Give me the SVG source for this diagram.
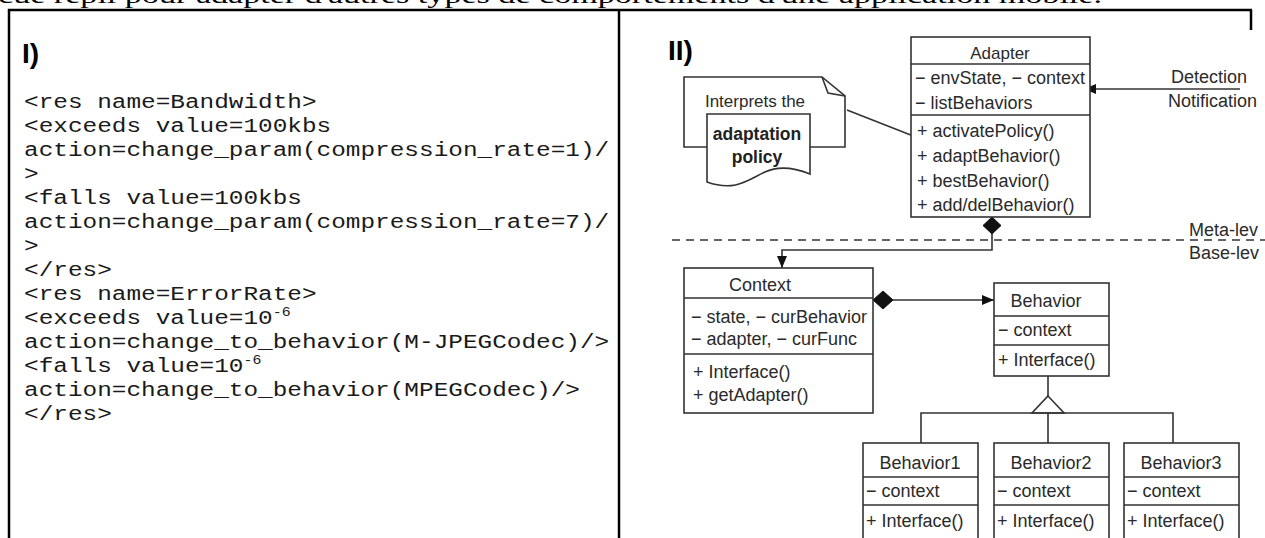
<svg xmlns="http://www.w3.org/2000/svg" width="1265" height="538" viewBox="0 0 1265 538">
<style>
.frame{stroke:#000;stroke-width:2.5;fill:none}
.code{font-family:"Liberation Mono","Courier New",monospace;font-size:20.5px;fill:#1a1a1a}
.sup{font-size:12.5px}
.head{font-family:"Liberation Sans",Arial,sans-serif;font-weight:bold;font-size:28px;fill:#000}
.box{fill:#fff;stroke:#333;stroke-width:1.6}
.ln{stroke:#333;stroke-width:1.6;fill:none}
.t{font-family:"Liberation Sans",Arial,sans-serif;font-size:18px;fill:#2a2a2a}
.tc{font-family:"Liberation Sans",Arial,sans-serif;font-size:18px;fill:#2a2a2a;text-anchor:middle}
.tb{font-family:"Liberation Sans",Arial,sans-serif;font-size:17.5px;font-weight:bold;fill:#222;text-anchor:middle}
.fill{fill:#111;stroke:#111;stroke-width:1}
</style>
<defs>
<marker id="arr" viewBox="0 0 12 10" refX="12" refY="5" markerWidth="12" markerHeight="10" markerUnits="userSpaceOnUse" orient="auto">
<path d="M0,0 L12,5 L0,10 Z" fill="#111"/>
</marker>
</defs>
<rect width="1265" height="538" fill="#fff"/>
<text x="-2" y="3" font-family="'Liberation Serif','Times New Roman',serif" font-size="24" fill="#000" textLength="1104" lengthAdjust="spacingAndGlyphs">cue répli pour adapter d'autres types de comportements d'une application mobile.</text>
<g id="frame">
<path class="frame" d="M9,538 V10 H1252 M619,10 V538 M1251,10 V30"/>
</g>
<g id="panel-I">
<text class="head" x="22" y="63">I)</text>
<g transform="scale(1.19,1)">
<text class="code">
<tspan x="20.2" y="108">&lt;res name=Bandwidth&gt;</tspan>
<tspan x="20.2" y="132">&lt;exceeds value=100kbs</tspan>
<tspan x="20.2" y="156">action=change_param(compression_rate=1)/</tspan>
<tspan x="20.2" y="180">&gt;</tspan>
<tspan x="20.2" y="204">&lt;falls value=100kbs</tspan>
<tspan x="20.2" y="228">action=change_param(compression_rate=7)/</tspan>
<tspan x="20.2" y="252">&gt;</tspan>
<tspan x="20.2" y="276">&lt;/res&gt;</tspan>
<tspan x="20.2" y="300">&lt;res name=ErrorRate&gt;</tspan>
<tspan x="20.2" y="324">&lt;exceeds value=10</tspan><tspan class="sup" dy="-8">-6</tspan>
<tspan x="20.2" y="348">action=change_to_behavior(M-JPEGCodec)/&gt;</tspan>
<tspan x="20.2" y="372">&lt;falls value=10</tspan><tspan class="sup" dy="-8">-6</tspan>
<tspan x="20.2" y="396">action=change_to_behavior(MPEGCodec)/&gt;</tspan>
<tspan x="20.2" y="420">&lt;/res&gt;</tspan>
</text>
</g>
</g>
<g id="panel-II-label">
<text class="head" x="668" y="60">II)</text>
</g>
<g id="connectors">
<line class="ln" x1="847" y1="110" x2="926" y2="141"/>
<line class="ln" x1="1240" y1="89" x2="1084" y2="89" marker-end="url(#arr)"/>
<line class="ln" x1="672" y1="240" x2="1265" y2="240" stroke="#555" stroke-dasharray="8,6"/>
<path class="ln" d="M992,234 V250 H782 V268" marker-end="url(#arr)"/>
<path class="fill" d="M992,217 L1001,225.5 L992,234 L983,225.5 Z"/>
<line class="ln" x1="893" y1="300" x2="994" y2="300" marker-end="url(#arr)"/>
<path class="fill" d="M873,300 L883,291 L893,300 L883,309 Z"/>
<path class="ln" d="M1048,376 V396 M1048,413 V443 M921,443 V413 H1173 V443"/>
<path class="ln" d="M1048,396 L1064,413 L1032,413 Z" fill="#fff"/>
<circle cx="926" cy="141" r="5" fill="#111"/>
</g>
<g id="note">
<path class="box" d="M684,77 H822 L845,96 V147 H684 Z"/>
<path class="ln" d="M822,77 L828,93 L845,96"/>
<text class="tc" x="755" y="107" style="font-size:17px">Interprets the</text>
</g>
<g id="policy">
<path class="box" d="M707,114 H810 V174 C795,168 780,165 765,172 C748,180 735,192 707,182 Z"/>
<text class="tb" x="757" y="140">adaptation</text>
<text class="tb" x="757" y="163">policy</text>
</g>
<g id="adapter">
<rect class="box" x="911" y="37" width="179" height="180"/>
<path class="ln" d="M911,64 H1090 M911,115 H1090"/>
<text class="tc" x="1000" y="59" style="font-size:17px">Adapter</text>
<text class="t" x="915" y="84">− envState, − context</text>
<text class="t" x="915" y="109">− listBehaviors</text>
<text class="t" x="917" y="137">+ activatePolicy()</text>
<text class="t" x="917" y="162">+ adaptBehavior()</text>
<text class="t" x="917" y="187">+ bestBehavior()</text>
<text class="t" x="917" y="211">+ add/delBehavior()</text>
</g>
<g id="detection">
<text class="t" x="1171" y="83">Detection</text>
<text class="t" x="1168" y="107">Notification</text>
</g>
<g id="levels">
<text class="t" x="1189" y="236">Meta-lev</text>
<text class="t" x="1189" y="259">Base-lev</text>
</g>
<g id="context">
<rect class="box" x="684" y="268" width="189" height="145"/>
<path class="ln" d="M684,298 H873 M684,354 H873"/>
<text class="tc" x="760" y="291">Context</text>
<text class="t" x="691" y="323">− state, − curBehavior</text>
<text class="t" x="691" y="345">− adapter, − curFunc</text>
<text class="t" x="693" y="378">+ Interface()</text>
<text class="t" x="693" y="401">+ getAdapter()</text>
</g>
<g id="behavior">
<rect class="box" x="994" y="283" width="115" height="93"/>
<path class="ln" d="M994,316 H1109 M994,345 H1109"/>
<text class="tc" x="1046" y="307">Behavior</text>
<text class="t" x="998" y="336">− context</text>
<text class="t" x="998" y="366">+ Interface()</text>
</g>
<g id="behavior1">
<rect class="box" x="863" y="443" width="115" height="100"/>
<path class="ln" d="M863,477 H978 M863,505 H978"/>
<text class="tc" x="920" y="469">Behavior1</text>
<text class="t" x="866" y="497">− context</text>
<text class="t" x="866" y="527">+ Interface()</text>
</g>
<g id="behavior2">
<rect class="box" x="994" y="443" width="115" height="100"/>
<path class="ln" d="M994,477 H1109 M994,505 H1109"/>
<text class="tc" x="1051" y="469">Behavior2</text>
<text class="t" x="997" y="497">− context</text>
<text class="t" x="997" y="527">+ Interface()</text>
</g>
<g id="behavior3">
<rect class="box" x="1124" y="443" width="115" height="100"/>
<path class="ln" d="M1124,477 H1239 M1124,505 H1239"/>
<text class="tc" x="1181" y="469">Behavior3</text>
<text class="t" x="1127" y="497">− context</text>
<text class="t" x="1127" y="527">+ Interface()</text>
</g>
</svg>
